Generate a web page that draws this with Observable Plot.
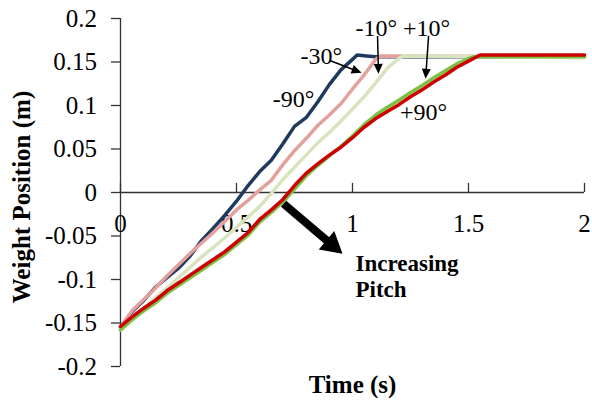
<!DOCTYPE html>
<html><head><meta charset="utf-8">
<script src="https://cdn.jsdelivr.net/npm/d3@7"></script>
<script src="https://cdn.jsdelivr.net/npm/@observablehq/plot@0.6"></script>
<style>html,body{margin:0;padding:0;background:#fff;overflow:hidden}
svg text{font-family:"Liberation Serif","Times New Roman",serif !important}</style>
</head><body><div id="chart"></div>
<script>
// ---- data ----
const xTicks = [0, 0.5, 1, 1.5, 2];
const yTicks = [-0.2, -0.15, -0.1, -0.05, 0, 0.05, 0.1, 0.15, 0.2];
const seriesNames = ["-90°", "-30°", "-10°", "+10°", "+90°"];
const seriesColors = ["#1f3a5f", "#e3a19c", "#d7e4bd", "#7cc242", "#cc0000"];

const pitchM90 = [[0,-0.155],[0.05,-0.137],[0.1,-0.124],[0.15,-0.109],[0.2,-0.098],[0.25,-0.087],[0.3,-0.073],[0.35,-0.055],[0.4,-0.041],[0.45,-0.026],[0.5,-0.010],[0.55,0.008],[0.6,0.024],[0.65,0.037],[0.7,0.056],[0.75,0.076],[0.8,0.086],[0.85,0.104],[0.9,0.124],[0.95,0.141],[1.0,0.153],[1.02,0.158],[1.06,0.157],[1.1,0.156],[2.0,0.156]];
const pitchM30 = [[0,-0.155],[0.05,-0.136],[0.1,-0.123],[0.15,-0.110],[0.2,-0.096],[0.25,-0.083],[0.3,-0.070],[0.35,-0.058],[0.4,-0.046],[0.45,-0.033],[0.5,-0.020],[0.55,-0.009],[0.6,0.003],[0.65,0.014],[0.7,0.032],[0.75,0.048],[0.8,0.062],[0.85,0.077],[0.9,0.089],[0.95,0.102],[1.0,0.119],[1.05,0.135],[1.1,0.153],[1.12,0.157],[2.0,0.156]];
const pitchM10 = [[0,-0.158],[0.05,-0.147],[0.1,-0.134],[0.15,-0.121],[0.2,-0.110],[0.25,-0.098],[0.3,-0.086],[0.35,-0.074],[0.4,-0.063],[0.45,-0.052],[0.5,-0.040],[0.55,-0.028],[0.6,-0.016],[0.65,-0.001],[0.7,0.015],[0.75,0.029],[0.8,0.043],[0.85,0.057],[0.9,0.069],[0.95,0.082],[1.0,0.096],[1.05,0.110],[1.1,0.126],[1.15,0.143],[1.2,0.154],[1.22,0.157],[2.0,0.155]];
const pitchP10 = [[0,-0.158],[0.05,-0.146],[0.1,-0.136],[0.15,-0.127],[0.2,-0.116],[0.25,-0.107],[0.3,-0.098],[0.35,-0.089],[0.4,-0.080],[0.45,-0.071],[0.5,-0.060],[0.55,-0.049],[0.6,-0.034],[0.65,-0.023],[0.7,-0.011],[0.75,0.004],[0.8,0.019],[0.85,0.031],[0.9,0.042],[0.95,0.053],[1.0,0.065],[1.05,0.078],[1.1,0.089],[1.15,0.098],[1.2,0.106],[1.25,0.115],[1.3,0.123],[1.35,0.132],[1.4,0.140],[1.45,0.148],[1.5,0.154],[1.52,0.156],[2.0,0.156]];
const pitchP90 = [[0,-0.154],[0.05,-0.143],[0.1,-0.133],[0.15,-0.124],[0.2,-0.113],[0.25,-0.104],[0.3,-0.095],[0.35,-0.086],[0.4,-0.077],[0.45,-0.068],[0.5,-0.057],[0.55,-0.046],[0.6,-0.031],[0.65,-0.020],[0.7,-0.008],[0.75,0.008],[0.8,0.022],[0.85,0.033],[0.9,0.043],[0.95,0.052],[1.0,0.063],[1.05,0.075],[1.1,0.085],[1.15,0.093],[1.2,0.101],[1.25,0.110],[1.3,0.118],[1.35,0.127],[1.4,0.135],[1.45,0.144],[1.5,0.151],[1.55,0.158],[2.0,0.158]];

// annotation labels (data coordinates)
const labelText = ["-30°", "-10°", "+10°", "-90°", "+90°"];
const labelX = [0.866, 1.103, 1.319, 0.746, 1.306];
const labelY = [0.1566, 0.1887, 0.1887, 0.1066, 0.0922];
const noteText = ["Increasing", "Pitch"];
const noteX = [1.013, 1.013];
const noteY = [-0.0814, -0.1119];
// pointer arrows (tail -> tip)
const smallArrows = [
  {x1: 0.905, y1: 0.1514, x2: 1.039, y2: 0.1376},
  {x1: 1.108, y1: 0.180, x2: 1.112, y2: 0.1364},
  {x1: 1.328, y1: 0.180, x2: 1.315, y2: 0.1307}
];
const bigArrow = [{x1: 0.703, y1: -0.013, x2: 0.957, y2: -0.0705}];

// ---- layout ----
const W = 592, H = 402;
const M = {top: 18, right: 8, bottom: 36, left: 120};
const xDomain = [0, 2], yDomain = [-0.2, 0.2];
const kx = (W - M.left - M.right) / (xDomain[1] - xDomain[0]);
const ky = (H - M.top - M.bottom) / (yDomain[1] - yDomain[0]);
const serif = "Liberation Serif";

const table = [];
[pitchM90, pitchM30, pitchM10, pitchP10, pitchP90].forEach((s, i) =>
  s.forEach(([t, v]) => table.push({t, v, series: seriesNames[i]})));

const fmt = d => String(+d.toFixed(2));

function arrowMarks(arrows, len, half, sw) {
  const marks = [];
  arrows.forEach(a => {
    const dxs = (a.x2 - a.x1) * kx, dys = -(a.y2 - a.y1) * ky;
    const n = Math.hypot(dxs, dys), ux = dxs / n, uy = dys / n;
    const shaft = {x1: a.x1, y1: a.y1,
      x2: a.x2 - ux * (len - 1) / kx, y2: a.y2 + uy * (len - 1) / ky};
    marks.push(Plot.link([shaft], {x1: "x1", y1: "y1", x2: "x2", y2: "y2",
      stroke: "black", strokeWidth: sw}));
    const sym = {draw(ctx) {
      const bx = -ux * len, by = -uy * len;
      ctx.moveTo(0, 0);
      ctx.lineTo(bx - uy * half, by + ux * half);
      ctx.lineTo(bx + uy * half, by - ux * half);
      ctx.closePath();
    }};
    marks.push(Plot.dot([a], {x: "x2", y: "y2", r: 4, symbol: sym, fill: "black", stroke: "none"}));
  });
  return marks;
}

const axisColor = "#333";
const chart = Plot.plot({
  width: W, height: H,
  marginTop: M.top, marginRight: M.right, marginBottom: M.bottom, marginLeft: M.left,
  x: {domain: xDomain, axis: null},
  y: {domain: yDomain, axis: null},
  color: {domain: seriesNames, range: seriesColors},
  style: {fontFamily: serif, fontSize: "24px", background: "white", color: "black", overflow: "visible"},
  marks: [
    Plot.axisY(yTicks, {tickSize: 9, tickPadding: 14.5, tickFormat: fmt, label: null, stroke: axisColor, strokeWidth: 1.3, fontSize: 25, fontFamily: serif}),
    Plot.ruleX([0], {stroke: axisColor, strokeWidth: 1.3}),
    Plot.ruleY([0], {stroke: axisColor, strokeWidth: 1.3}),
    Plot.ruleX(xTicks, {x: d => d, y1: 0, y2: 0.0105, stroke: axisColor, strokeWidth: 1.3}),
    Plot.text(xTicks, {x: d => d, y: 0, dy: 31, text: fmt, fontSize: 25, fontFamily: serif}),
    Plot.line(table, {x: "t", y: "v", z: "series", stroke: "series", strokeWidth: 3.5, strokeLinejoin: "round"}),
    Plot.text(labelText, {x: (d, i) => labelX[i], y: (d, i) => labelY[i], text: d => d, fontSize: 24, fontFamily: serif}),
    Plot.text(noteText, {x: (d, i) => noteX[i], y: (d, i) => noteY[i], text: d => d, textAnchor: "start", fontWeight: "bold", fontSize: 23, fontFamily: serif}),
    ...arrowMarks(smallArrows, 10, 4.5, 1.5),
    ...arrowMarks(bigArrow, 21, 12, 8),
    Plot.text(["Weight Position (m)"], {frameAnchor: "left", textAnchor: "middle", lineAnchor: "middle", dx: -98.5, dy: 4.5, rotate: -90, text: d => d, fontWeight: "bold", fontSize: 25, fontFamily: serif}),
    Plot.text(["Time (s)"], {frameAnchor: "bottom", textAnchor: "middle", lineAnchor: "middle", dy: 18, text: d => d, fontWeight: "bold", fontSize: 25, fontFamily: serif})
  ]
});
document.getElementById("chart").append(chart);
</script>
</body></html>
